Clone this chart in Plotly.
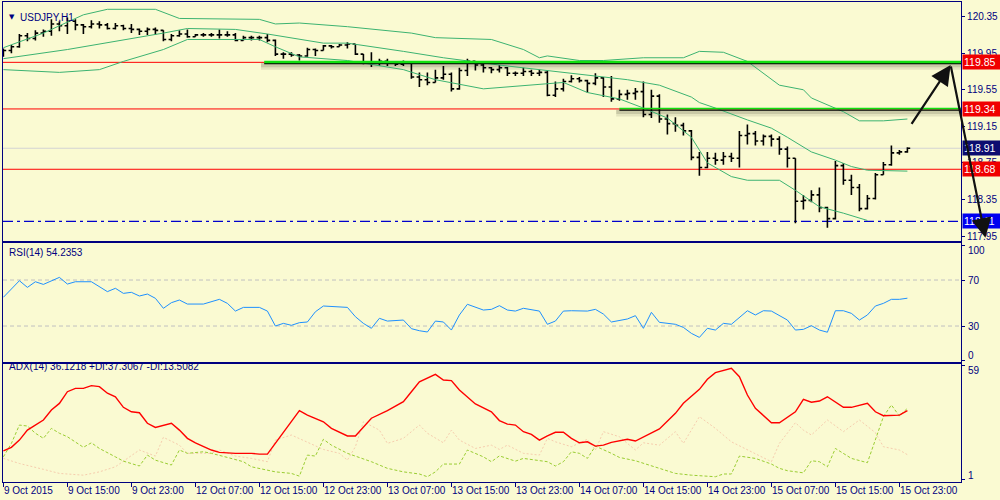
import plotly.graph_objects as go
from plotly.subplots import make_subplots

# USDJPY H1, bar 0 = 9 Oct 2015 07:00
bar_open = [119.93, 119.98, 120.02, 120.14, 120.11, 120.17, 120.19, 120.27, 120.25, 120.30,
            120.26, 120.24, 120.27, 120.26, 120.22, 120.25, 120.22, 120.21, 120.19, 120.21,
            120.20, 120.10, 120.14, 120.16, 120.13, 120.15, 120.15, 120.15, 120.15, 120.15,
            120.09, 120.12, 120.12, 120.12, 120.09, 119.94, 119.94, 119.93, 119.92, 119.99,
            119.98, 120.03, 120.02, 120.04, 120.05, 119.94, 119.85, 119.84, 119.86, 119.85,
            119.83, 119.84, 119.69, 119.66, 119.63, 119.68, 119.72, 119.56, 119.76, 119.86,
            119.82, 119.79, 119.77, 119.79, 119.73, 119.73, 119.75, 119.73, 119.74, 119.49,
            119.56, 119.64, 119.67, 119.65, 119.62, 119.68, 119.58, 119.45, 119.50, 119.51,
            119.53, 119.28, 119.48, 119.23, 119.18, 119.16, 119.10, 118.81, 118.70, 118.80,
            118.78, 118.82, 118.80, 119.05, 119.07, 118.99, 119.04, 119.01, 118.90, 118.80,
            118.33, 118.34, 118.40, 118.26, 118.14, 118.72, 118.56, 118.48, 118.25, 118.36,
            118.62, 118.73, 118.86, 118.87]
bar_high = [120.00, 120.04, 120.16, 120.17, 120.20, 120.21, 120.32, 120.30, 120.34, 120.32,
            120.27, 120.31, 120.30, 120.28, 120.28, 120.26, 120.27, 120.22, 120.23, 120.23,
            120.20, 120.16, 120.20, 120.21, 120.16, 120.17, 120.17, 120.21, 120.19, 120.17,
            120.14, 120.14, 120.14, 120.16, 120.10, 119.96, 119.96, 119.94, 120.01, 120.00,
            120.04, 120.04, 120.05, 120.07, 120.05, 119.94, 119.96, 119.89, 119.89, 119.86,
            119.87, 119.84, 119.74, 119.74, 119.77, 119.81, 119.74, 119.79, 119.89, 119.86,
            119.84, 119.80, 119.82, 119.80, 119.75, 119.79, 119.77, 119.77, 119.76, 119.64,
            119.67, 119.71, 119.69, 119.66, 119.73, 119.69, 119.70, 119.55, 119.55, 119.57,
            119.64, 119.55, 119.50, 119.28, 119.25, 119.19, 119.11, 118.87, 118.87, 118.86,
            118.87, 118.86, 119.10, 119.17, 119.10, 119.06, 119.06, 119.04, 118.93, 118.80,
            118.40, 118.45, 118.48, 118.27, 118.77, 118.75, 118.62, 118.52, 118.40, 118.64,
            118.76, 118.94, 118.89, 118.92]
bar_low = [119.91, 119.95, 120.01, 120.08, 120.09, 120.13, 120.14, 120.19, 120.16, 120.20,
           120.16, 120.22, 120.22, 120.21, 120.21, 120.20, 120.17, 120.15, 120.15, 120.15,
           120.08, 120.08, 120.13, 120.12, 120.13, 120.13, 120.13, 120.11, 120.13, 120.08,
           120.09, 120.09, 120.09, 120.07, 119.92, 119.89, 119.91, 119.87, 119.91, 119.92,
           119.98, 120.00, 120.02, 120.00, 119.93, 119.83, 119.80, 119.81, 119.81, 119.81,
           119.81, 119.67, 119.58, 119.60, 119.63, 119.66, 119.53, 119.55, 119.70, 119.76,
           119.74, 119.73, 119.74, 119.70, 119.70, 119.70, 119.70, 119.70, 119.48, 119.47,
           119.53, 119.63, 119.63, 119.52, 119.60, 119.47, 119.42, 119.43, 119.44, 119.44,
           119.25, 119.24, 119.19, 119.06, 119.09, 119.05, 118.78, 118.61, 118.69, 118.73,
           118.73, 118.76, 118.70, 118.95, 118.94, 118.94, 118.93, 118.84, 118.70, 118.09,
           118.24, 118.32, 118.21, 118.04, 118.13, 118.51, 118.40, 118.22, 118.24, 118.35,
           118.62, 118.72, 118.84, 118.86]
bar_close = [119.98, 120.02, 120.14, 120.11, 120.17, 120.19, 120.27, 120.25, 120.30, 120.26,
             120.24, 120.27, 120.26, 120.22, 120.25, 120.22, 120.21, 120.19, 120.21, 120.20,
             120.10, 120.14, 120.16, 120.13, 120.15, 120.15, 120.15, 120.15, 120.15, 120.09,
             120.12, 120.12, 120.12, 120.09, 119.94, 119.94, 119.93, 119.92, 119.99, 119.98,
             120.03, 120.02, 120.04, 120.05, 119.94, 119.85, 119.84, 119.86, 119.85, 119.83,
             119.84, 119.69, 119.66, 119.63, 119.68, 119.72, 119.56, 119.76, 119.86, 119.82,
             119.79, 119.77, 119.79, 119.73, 119.73, 119.75, 119.73, 119.74, 119.49, 119.56,
             119.64, 119.67, 119.65, 119.62, 119.68, 119.58, 119.45, 119.50, 119.51, 119.53,
             119.28, 119.48, 119.23, 119.18, 119.16, 119.10, 118.81, 118.70, 118.80, 118.78,
             118.82, 118.80, 119.05, 119.07, 118.99, 119.04, 119.01, 118.90, 118.80, 118.33,
             118.34, 118.40, 118.26, 118.14, 118.72, 118.56, 118.48, 118.25, 118.36, 118.62,
             118.73, 118.86, 118.87, 118.91]
bar_idx = list(range(len(bar_close)))

# Bollinger bands
bb_up_idx = [0, 5, 10, 13, 19, 22, 32, 34, 37, 43, 51, 54, 61, 65, 67, 68, 72, 75, 80, 85, 87,
             90, 93, 97, 100, 101, 105, 107, 110, 113]
bb_up = [120.01, 120.17, 120.37, 120.43, 120.43, 120.33, 120.32, 120.27, 120.28, 120.24, 120.17,
         120.12, 120.10, 119.99, 119.90, 119.92, 119.87, 119.87, 119.90, 119.90, 119.97, 119.96,
         119.86, 119.60, 119.55, 119.46, 119.31, 119.21, 119.21, 119.23]
bb_mid_idx = [0, 8, 20, 23, 29, 33, 40, 43, 50, 55, 62, 67, 73, 78, 82, 86, 87, 89, 93, 96, 98,
              101, 104, 106, 108, 113]
bb_mid = [119.89, 119.99, 120.17, 120.22, 120.21, 120.16, 120.06, 120.06, 119.97, 119.90, 119.82,
          119.77, 119.71, 119.66, 119.60, 119.47, 119.41, 119.35, 119.22, 119.13, 119.03, 118.87,
          118.78, 118.71, 118.67, 118.66]
bb_low_idx = [0, 7, 12, 15, 20, 23, 32, 34, 37, 43, 50, 54, 60, 66, 70, 73, 77, 80, 83, 86, 88,
              91, 93, 97, 99, 102, 105, 108]
bb_low = [119.77, 119.74, 119.77, 119.86, 119.99, 120.10, 120.10, 120.02, 119.91, 119.87, 119.77,
          119.66, 119.56, 119.60, 119.63, 119.52, 119.45, 119.35, 119.24, 119.03, 118.75, 118.60,
          118.56, 118.56, 118.45, 118.27, 118.20, 118.12]

# RSI(14)
rsi_idx = [0, 2, 3, 4, 5, 6, 7, 8, 9, 11, 12, 13, 14, 15, 16, 17, 18, 19, 20, 21, 22, 23, 25, 26,
           27, 28, 29, 30, 32, 33, 34, 35, 36, 37, 38, 39, 40, 43, 44, 45, 46, 47, 48, 50, 51, 52,
           53, 54, 55, 56, 57, 58, 60, 61, 62, 63, 64, 65, 66, 67, 68, 69, 70, 71, 73, 74, 75, 76,
           78, 79, 80, 81, 82, 84, 85, 86, 87, 88, 89, 90, 91, 93, 94, 95, 96, 98, 99, 100, 101,
           102, 103, 104, 105, 106, 107, 108, 109, 110, 111, 112, 113]
rsi = [55.0, 69.4, 63.6, 68.5, 66.2, 69.4, 72.3, 66.5, 68.5, 68.5, 64.2, 59.9, 62.8, 58.4, 59.3,
       56.1, 57.8, 54.1, 45.4, 50.3, 52.6, 49.1, 49.1, 50.9, 53.2, 49.7, 43.0, 46.2, 46.2, 43.0,
       30.0, 32.3, 30.6, 32.9, 33.5, 42.4, 47.4, 46.2, 38.1, 32.3, 28.0, 36.7, 34.3, 35.2, 27.7,
       25.9, 24.8, 34.3, 33.5, 26.5, 39.6, 48.9, 43.9, 44.5, 47.7, 43.9, 43.0, 45.4, 43.9, 43.0,
       31.5, 34.3, 43.0, 43.3, 43.0, 44.5, 40.4, 33.5, 36.1, 39.0, 28.0, 41.9, 33.2, 31.5, 28.8,
       23.6, 20.1, 28.0, 26.5, 32.3, 31.5, 43.3, 39.6, 43.3, 43.0, 35.2, 26.5, 27.1, 30.3, 26.5,
       24.6, 43.3, 43.3, 41.0, 35.2, 39.6, 47.4, 49.7, 53.2, 53.2, 54.2]

# ADX(14)
adx_idx = [0, 1, 2, 3, 5, 6, 7, 8, 9, 10, 11, 12, 13, 14, 15, 16, 17, 18, 19, 20, 21, 22, 23, 24,
           25, 26, 27, 29, 31, 32, 33, 35, 37, 38, 40, 41, 43, 44, 45, 46, 48, 50, 51, 52, 54, 55,
           56, 57, 59, 61, 62, 63, 64, 65, 66, 67, 68, 69, 70, 71, 72, 73, 74, 75, 76, 78, 79, 80,
           82, 84, 85, 87, 88, 89, 91, 92, 93, 94, 96, 97, 99, 100, 101, 102, 103, 105, 106, 108,
           109, 110, 112, 113]
adx = [15.5, 17.3, 21.0, 26.1, 31.3, 36.4, 39.8, 45.8, 47.5, 47.5, 48.9, 48.4, 45.0, 43.2, 37.8,
       35.5, 35.0, 29.6, 27.5, 28.7, 29.6, 26.1, 21.9, 19.6, 17.6, 15.9, 14.7, 14.2, 14.2, 13.8,
       13.8, 24.8, 36.1, 33.8, 30.4, 27.0, 23.1, 23.1, 27.5, 32.2, 36.1, 40.7, 45.8, 50.9, 54.7,
       51.8, 51.5, 46.7, 39.5, 35.5, 31.0, 29.2, 28.7, 25.3, 23.9, 21.0, 23.1, 25.0, 25.0, 21.9,
       19.6, 20.1, 17.9, 18.4, 19.8, 21.4, 20.5, 22.7, 26.7, 34.7, 39.9, 47.0, 52.2, 55.6, 57.8,
       53.5, 44.1, 37.3, 29.9, 29.9, 35.5, 41.9, 40.4, 41.0, 43.2, 37.8, 37.8, 39.9, 35.5, 33.5,
       33.8, 36.1]
pdi_idx = [0, 1, 2, 3, 4, 5, 6, 7, 8, 10, 11, 12, 14, 15, 17, 18, 19, 21, 22, 23, 25, 26, 28, 30,
           31, 33, 34, 36, 37, 38, 39, 40, 41, 43, 46, 48, 50, 52, 53, 54, 55, 57, 58, 60, 61, 62,
           64, 65, 68, 69, 70, 71, 72, 73, 74, 76, 77, 79, 80, 82, 84, 86, 89, 90, 91, 92, 94, 96,
           97, 98, 100, 101, 102, 103, 104, 105, 106, 108, 109, 110, 111, 112, 113]
pdi = [12.4, 19.3, 28.7, 28.2, 24.5, 21.9, 27.0, 24.5, 22.7, 17.3, 19.6, 16.7, 12.4, 10.2, 7.7,
       13.3, 10.7, 8.2, 15.9, 14.2, 15.0, 14.2, 12.1, 9.9, 7.3, 5.6, 4.7, 3.9, 2.5, 13.3, 12.8,
       21.4, 18.4, 14.2, 9.9, 6.5, 4.7, 3.6, 2.2, 4.7, 8.7, 8.7, 15.9, 12.4, 9.9, 12.9, 10.2, 11.6,
       9.9, 7.7, 9.9, 15.0, 14.2, 11.6, 17.9, 14.2, 12.1, 10.4, 9.0, 6.5, 3.9, 3.0, 2.2, 3.6, 3.6,
       12.8, 11.6, 8.7, 6.5, 5.3, 4.2, 10.4, 9.9, 7.3, 16.7, 14.2, 11.6, 9.4, 21.0, 33.0, 39.0,
       33.3, 37.3]
mdi_idx = [0, 2, 5, 7, 10, 12, 14, 16, 17, 19, 20, 22, 23, 26, 27, 29, 31, 33, 34, 36, 38, 40, 42,
           43, 44, 45, 47, 48, 50, 52, 53, 55, 56, 57, 59, 61, 62, 63, 65, 67, 68, 69, 71, 73, 74,
           75, 77, 79, 80, 82, 84, 85, 87, 89, 91, 93, 95, 96, 97, 99, 100, 101, 103, 105, 107,
           109, 110, 112, 113]
mdi = [11.6, 9.0, 6.0, 3.9, 3.0, 4.7, 7.3, 13.3, 15.9, 12.8, 22.4, 18.4, 14.2, 14.2, 15.9, 12.8,
       11.6, 9.9, 21.0, 23.6, 20.1, 16.2, 14.2, 10.7, 17.6, 30.4, 26.1, 19.3, 21.9, 28.7, 24.5,
       19.6, 26.1, 21.0, 16.7, 18.4, 16.2, 18.4, 14.2, 13.3, 21.9, 20.1, 17.6, 21.4, 15.9, 25.3,
       22.7, 15.9, 19.6, 18.4, 25.3, 19.3, 33.0, 27.0, 20.1, 15.9, 11.6, 9.9, 19.3, 29.9, 26.1,
       23.6, 31.3, 25.3, 31.3, 24.8, 17.6, 15.9, 13.5]

# levels and drawn objects
red_levels = [119.85, 119.34, 118.68]
bid_price = 118.91
support_price = 118.11
green_lines = [(32.6, 119.85), (77.0, 119.34)]      # (start bar, price)
path_idx = [113.4, 118.4, 122.75]                  # hand drawn forecast arrows
path_price = [119.16, 119.82, 117.93]

tick_idx = list(range(0, 113, 8))
tick_text = ["9 Oct 2015", "9 Oct 15:00", "9 Oct 23:00", "12 Oct 07:00", "12 Oct 15:00",
             "12 Oct 23:00", "13 Oct 07:00", "13 Oct 15:00", "13 Oct 23:00", "14 Oct 07:00",
             "14 Oct 15:00", "14 Oct 23:00", "15 Oct 07:00", "15 Oct 15:00", "15 Oct 23:00"]
price_ticks = [120.35, 119.95, 119.55, 119.15, 118.75, 118.35, 117.95]

BG = "#FAFAD2"
NAVY = "#000080"
FONT = "Liberation Sans"
XR = [-0.05, 119.7]
PX = (120.51 - 117.895) / 239   # price per pixel in the main panel

fig = make_subplots(rows=3, cols=1, shared_xaxes=True, vertical_spacing=0.004)

fig.add_trace(go.Scatter(x=bb_up_idx, y=bb_up, mode="lines",
                         line=dict(color="#3CB371", width=1)), row=1, col=1)
fig.add_trace(go.Scatter(x=bb_mid_idx, y=bb_mid, mode="lines",
                         line=dict(color="#3CB371", width=1)), row=1, col=1)
fig.add_trace(go.Scatter(x=bb_low_idx, y=bb_low, mode="lines",
                         line=dict(color="#3CB371", width=1)), row=1, col=1)

fig.add_trace(go.Ohlc(x=bar_idx, open=bar_open, high=bar_high, low=bar_low, close=bar_close,
                      increasing=dict(line=dict(color="black", width=1.6)),
                      decreasing=dict(line=dict(color="black", width=1.6)),
                      tickwidth=0.35), row=1, col=1)

fig.add_trace(go.Scatter(x=rsi_idx, y=rsi, mode="lines",
                         line=dict(color="#1E90FF", width=1)), row=2, col=1)

fig.add_trace(go.Scatter(x=mdi_idx, y=mdi, mode="lines",
                         line=dict(color="#F6CDAE", width=1, dash="2px,2px")), row=3, col=1)
fig.add_trace(go.Scatter(x=pdi_idx, y=pdi, mode="lines",
                         line=dict(color="#9ACD32", width=1, dash="3px,2px")), row=3, col=1)
fig.add_trace(go.Scatter(x=adx_idx, y=adx, mode="lines",
                         line=dict(color="#FF0000", width=1.4)), row=3, col=1)

# horizontal levels
for lv in red_levels:
    fig.add_shape(type="line", xref="x", yref="y", x0=XR[0], x1=XR[1], y0=lv, y1=lv,
                  line=dict(color="#FF0000", width=1), layer="below")
fig.add_shape(type="line", xref="x", yref="y", x0=XR[0], x1=XR[1], y0=bid_price, y1=bid_price,
              line=dict(color="#D3D3D3", width=1), layer="below")
fig.add_shape(type="line", xref="x", yref="y", x0=XR[0], x1=XR[1], y0=support_price,
              y1=support_price, line=dict(color="#0000CD", width=1.3, dash="10px,4px,3px,4px"),
              layer="below")
# trend lines: soft grey shadow under, thin black edge, bright green on top
for k, (x0, lv) in enumerate(green_lines):
    for off, w, a in [(4, 7, 0.10), (3, 4, 0.14)]:
        fig.add_shape(type="line", xref="x", yref="y", x0=x0 - 0.4, x1=XR[1],
                      y0=lv - off * PX, y1=lv - off * PX,
                      line=dict(color=f"rgba(40,40,20,{a})", width=w), layer="below")
    gw = 2.6 if k == 0 else 1.4
    fig.add_shape(type="line", xref="x", yref="y", x0=x0, x1=XR[1], y0=lv - 1.2 * PX,
                  y1=lv - 1.2 * PX, line=dict(color="#000000", width=1.3))
    fig.add_shape(type="line", xref="x", yref="y", x0=x0, x1=XR[1], y0=lv + 0.4 * PX,
                  y1=lv + 0.4 * PX, line=dict(color="#10E010", width=gw))

# RSI 70 / 30 levels
for lv in [70, 30]:
    fig.add_shape(type="line", xref="x2", yref="y2", x0=XR[0], x1=XR[1], y0=lv, y1=lv,
                  line=dict(color="#C0C0C0", width=1, dash="4px,3px"), layer="below")

ann = []
# price label boxes on the right axis
boxes = [(red_levels[0], "#F00000"), (red_levels[1], "#F00000"), (bid_price, "#0C0C70"),
         (red_levels[2], "#F00000"), (support_price, "#0000F0")]
for lv, col in boxes:
    ann.append(dict(xref="paper", yref="y", x=1, y=lv, xanchor="left", xshift=1,
                    text=f"{lv:.2f}", showarrow=False, bgcolor=col, width=36, height=12,
                    align="left", font=dict(color="white", size=10.5, family=FONT)))

# indicator axis labels
for v, sh in zip([100, 70, 30, 0], [-5, 0, 0, 5]):
    ann.append(dict(xref="paper", yref="y2", x=1, y=v, xanchor="left", xshift=5, yshift=sh,
                    text=str(v), showarrow=False, font=dict(color=NAVY, size=10, family=FONT)))
for v, sh in zip([59, 1], [-5, 4]):
    ann.append(dict(xref="paper", yref="y3", x=1, y=v, xanchor="left", xshift=5, yshift=sh,
                    text=str(v), showarrow=False, font=dict(color=NAVY, size=10, family=FONT)))

# time labels, left aligned at their tick like the terminal does
for i, t in zip(tick_idx, tick_text):
    ann.append(dict(xref="x3", yref="paper", x=i, y=0, xanchor="left", yanchor="top",
                    yshift=-1, xshift=-1, text=t, showarrow=False,
                    font=dict(color=NAVY, size=10, family=FONT)))

# panel captions
ann.append(dict(xref="paper", yref="paper", x=0.0045, y=0.981, xanchor="left", text="▼",
                showarrow=False, font=dict(color=NAVY, size=7, family="DejaVu Sans")))
ann.append(dict(xref="paper", yref="paper", x=0.0155, y=0.983, xanchor="left",
                text="USDJPY,H1", showarrow=False, font=dict(color=NAVY, size=10, family=FONT)))
ann.append(dict(xref="paper", yref="paper", x=0.004, y=0.479, xanchor="left",
                text="RSI(14) 54.2353", showarrow=False,
                font=dict(color=NAVY, size=10, family=FONT)))
ann.append(dict(xref="paper", yref="paper", x=0.004, y=0.225, xanchor="left",
                text="ADX(14) 36.1218 +DI:37.3067 -DI:13.5082", showarrow=False,
                font=dict(color=NAVY, size=10, family=FONT)))

# forecast arrows
for k in range(len(path_idx) - 1):
    ann.append(dict(xref="x", yref="y", axref="x", ayref="y",
                    x=path_idx[k + 1], y=path_price[k + 1], ax=path_idx[k], ay=path_price[k],
                    text="", showarrow=True, arrowhead=2, arrowsize=1.8, arrowwidth=2.2,
                    arrowcolor="#111111"))

fig.update_layout(
    width=1000, height=500,
    margin=dict(l=3, r=39, t=2, b=18),
    paper_bgcolor=BG, plot_bgcolor=BG,
    showlegend=False,
    annotations=ann,
    font=dict(family=FONT, size=10, color=NAVY),
)
fig.update_layout(
    yaxis=dict(domain=[0.502, 1.0]),
    yaxis2=dict(domain=[0.25, 0.4979]),
    yaxis3=dict(domain=[0.0, 0.2458]),
)
fig.update_xaxes(range=XR, showgrid=False, zeroline=False, showline=True, mirror=True,
                 linecolor=NAVY, linewidth=1.2, rangeslider_visible=False,
                 showticklabels=False, ticks="")
fig.update_xaxes(row=3, col=1, ticks="outside", ticklen=4, tickcolor=NAVY,
                 tickvals=tick_idx)
fig.update_yaxes(side="right", showgrid=False, zeroline=False, showline=True, mirror=True,
                 linecolor=NAVY, linewidth=1.2, ticks="outside", ticklen=3, tickcolor=NAVY)
fig.update_yaxes(row=1, col=1, range=[117.895, 120.51], tickvals=price_ticks,
                 ticktext=[f"{p:.2f}" for p in price_ticks],
                 tickfont=dict(color=NAVY, size=10, family=FONT))
fig.update_yaxes(row=2, col=1, range=[-1.3, 102.2], tickvals=[100, 70, 30, 0],
                 showticklabels=False)
fig.update_yaxes(row=3, col=1, range=[-0.5, 60.0], tickvals=[59, 1], showticklabels=False)

# page default body margin would push the figure 8px off the corner
fig.write_html("out.html", config={"displayModeBar": False},
               post_script="document.body.style.margin='0';")
